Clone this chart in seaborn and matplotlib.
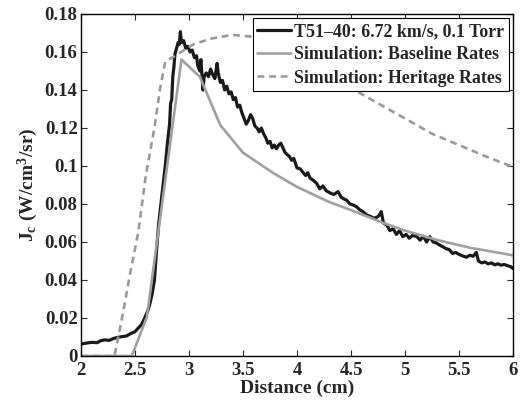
import matplotlib
matplotlib.use("Agg")
import matplotlib.pyplot as plt
import seaborn as sns
import pandas as pd

# Experimental T51-40
exp_x = [2.00, 2.05, 2.10, 2.15, 2.18, 2.22, 2.26, 2.30, 2.34, 2.38, 2.42, 2.46, 2.50, 2.53, 2.56,
         2.59, 2.62, 2.64, 2.66, 2.68, 2.70, 2.72, 2.74, 2.76, 2.78, 2.80, 2.82, 2.83, 2.84, 2.85,
         2.86, 2.87, 2.89, 2.90, 2.91, 2.92, 2.93, 2.95, 2.97, 2.99, 3.01, 3.03, 3.05, 3.07, 3.08,
         3.10, 3.11, 3.12, 3.13, 3.14, 3.16, 3.18, 3.20, 3.22, 3.24, 3.26, 3.27, 3.29, 3.31, 3.33,
         3.35, 3.37, 3.39, 3.41, 3.43, 3.45, 3.47, 3.49, 3.51, 3.53, 3.55, 3.57, 3.59, 3.61, 3.63,
         3.65, 3.67, 3.69, 3.71, 3.73, 3.75, 3.77, 3.79, 3.81, 3.83, 3.85, 3.87, 3.89, 3.91, 3.93,
         3.95, 3.97, 4.00, 4.03, 4.05, 4.08, 4.10, 4.12, 4.15, 4.18, 4.21, 4.24, 4.27, 4.31, 4.34,
         4.38, 4.41, 4.44, 4.46, 4.49, 4.52, 4.55, 4.58, 4.61, 4.65, 4.68, 4.71, 4.74, 4.76, 4.78,
         4.80, 4.83, 4.86, 4.89, 4.92, 4.95, 4.98, 5.01, 5.04, 5.07, 5.11, 5.14, 5.17, 5.20, 5.23,
         5.26, 5.29, 5.32, 5.35, 5.38, 5.41, 5.44, 5.47, 5.50, 5.54, 5.57, 5.60, 5.63, 5.66, 5.68,
         5.71, 5.74, 5.77, 5.80, 5.83, 5.86, 5.89, 5.92, 5.95, 5.98, 6.00]
exp_y = [0.0063, 0.0068, 0.0072, 0.0070, 0.0080, 0.0085, 0.0082, 0.0092, 0.0098, 0.0102, 0.0105, 0.0118, 0.0128, 0.0147, 0.0165,
         0.0200, 0.0240, 0.0280, 0.0330, 0.0400, 0.0560, 0.0700, 0.0800, 0.0900, 0.1000, 0.1120, 0.1220, 0.1330, 0.1350, 0.1470,
         0.1520, 0.1590, 0.1630, 0.1650, 0.1640, 0.1707, 0.1650, 0.1660, 0.1620, 0.1630, 0.1600, 0.1610, 0.1570, 0.1580, 0.1530,
         0.1500, 0.1560, 0.1480, 0.1400, 0.1470, 0.1490, 0.1470, 0.1510, 0.1480, 0.1460, 0.1540, 0.1490, 0.1440, 0.1450, 0.1400,
         0.1420, 0.1380, 0.1390, 0.1350, 0.1360, 0.1310, 0.1320, 0.1280, 0.1250, 0.1220, 0.1240, 0.1270, 0.1250, 0.1210, 0.1200,
         0.1180, 0.1200, 0.1170, 0.1150, 0.1120, 0.1130, 0.1095, 0.1110, 0.1090, 0.1110, 0.1120, 0.1095, 0.1070, 0.1060, 0.1050,
         0.1030, 0.1040, 0.0990, 0.0985, 0.0970, 0.0950, 0.0965, 0.0937, 0.0925, 0.0910, 0.0880, 0.0895, 0.0870, 0.0857, 0.0850,
         0.0865, 0.0835, 0.0825, 0.0820, 0.0800, 0.0795, 0.0786, 0.0770, 0.0760, 0.0740, 0.0735, 0.0725, 0.0730, 0.0740, 0.0760,
         0.0700, 0.0690, 0.0660, 0.0670, 0.0640, 0.0660, 0.0628, 0.0640, 0.0620, 0.0635, 0.0628, 0.0610, 0.0630, 0.0600, 0.0628,
         0.0600, 0.0595, 0.0584, 0.0575, 0.0565, 0.0560, 0.0540, 0.0545, 0.0535, 0.0525, 0.0520, 0.0530, 0.0525, 0.0545, 0.0500,
         0.0490, 0.0495, 0.0485, 0.0490, 0.0480, 0.0485, 0.0478, 0.0482, 0.0475, 0.0470, 0.0460]

# Simulation: Baseline Rates
base_x = [2.00, 2.47, 2.61, 2.93, 3.10, 3.29, 3.50, 3.78, 4.00, 4.30, 4.50, 4.80, 5.00, 5.30, 5.60, 6.00]
base_y = [0.000, 0.000, 0.0205, 0.156, 0.147, 0.1215, 0.107, 0.0963, 0.089, 0.081, 0.0768, 0.070, 0.066, 0.061, 0.057, 0.053]

# Simulation: Heritage Rates
her_x = [2.00, 2.31, 2.38, 2.46, 2.53, 2.60, 2.68, 2.73, 2.78, 2.87, 3.04, 3.20, 3.40, 3.60, 3.80,
         4.00, 4.25, 4.50, 4.75, 5.00, 5.25, 5.50, 5.75, 6.00]
her_y = [0.000, 0.000, 0.020, 0.045, 0.065, 0.095, 0.120, 0.140, 0.155, 0.158, 0.164, 0.167, 0.169, 0.168, 0.164,
         0.158, 0.150, 0.141, 0.133, 0.125, 0.117, 0.111, 0.105, 0.0995]

labels = ["T51\u201340: 6.72 km/s, 0.1 Torr", "Simulation: Baseline Rates", "Simulation: Heritage Rates"]
x_ticks = [2, 2.5, 3, 3.5, 4, 4.5, 5, 5.5, 6]
x_tick_labels = ["2", "2.5", "3", "3.5", "4", "4.5", "5", "5.5", "6"]
y_ticks = [0, 0.02, 0.04, 0.06, 0.08, 0.1, 0.12, 0.14, 0.16, 0.18]
y_tick_labels = ["0", "0.02", "0.04", "0.06", "0.08", "0.1", "0.12", "0.14", "0.16", "0.18"]

sns.set_style("ticks")
plt.rcParams["font.family"] = ["Liberation Serif", "DejaVu Serif"]
plt.rcParams["font.weight"] = "bold"
plt.rcParams["mathtext.fontset"] = "custom"
plt.rcParams["mathtext.rm"] = "Liberation Serif:bold"
plt.rcParams["mathtext.it"] = "Liberation Serif:bold"
plt.rcParams["mathtext.bf"] = "Liberation Serif:bold"
plt.rcParams["mathtext.default"] = "rm"

fig = plt.figure(figsize=(5.22, 4.03), dpi=100)
ax = fig.add_axes([81 / 522, 1 - 356 / 403, (513 - 81) / 522, (356 - 14) / 403])

df_exp = pd.DataFrame({"x": exp_x, "y": exp_y})
df_base = pd.DataFrame({"x": base_x, "y": base_y})
df_her = pd.DataFrame({"x": her_x, "y": her_y})

sns.lineplot(data=df_exp, x="x", y="y", ax=ax, color="#1a1a1a", linewidth=2.3, sort=False, label=labels[0])
sns.lineplot(data=df_base, x="x", y="y", ax=ax, color="#a0a0a0", linewidth=1.9, sort=False, label=labels[1])
sns.lineplot(data=df_her, x="x", y="y", ax=ax, color="#9a9a9a", linewidth=1.9, sort=False, label=labels[2],
             linestyle=(0, (2.6, 1.8)))

ax.set_xlim(2, 6)
ax.set_ylim(0, 0.18)
ax.set_xticks(x_ticks)
ax.set_xticklabels(x_tick_labels)
ax.set_yticks(y_ticks)
ax.set_yticklabels(y_tick_labels)
ax.tick_params(direction="in", top=True, right=True, length=4, width=0.8, labelsize=13.5)
ax.tick_params(axis="y", pad=2.5)
ax.tick_params(axis="x", pad=4)
for s in ax.spines.values():
    s.set_linewidth(1.0)
    s.set_color("black")
    s.set_visible(True)

ax.set_xlabel("Distance (cm)", fontsize=14, fontweight="bold", labelpad=1)
ax.set_ylabel(r"J$_\mathrm{c}$ (W/cm$^3$/sr)", fontsize=14, fontweight="bold", labelpad=3)

leg = ax.legend(loc="upper right", fontsize=12.9, frameon=True, fancybox=False, framealpha=1,
                edgecolor="black", handlelength=1.9, handletextpad=0.15, borderpad=0.25,
                labelspacing=0.35, borderaxespad=0.25)
leg.get_frame().set_linewidth(0.8)

fig.savefig("out.png", dpi=100)
